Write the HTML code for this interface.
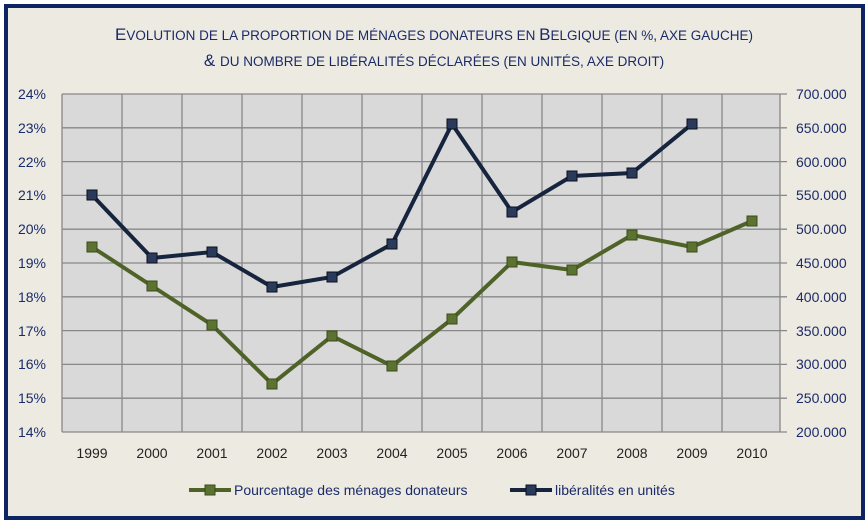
<!DOCTYPE html>
<html><head><meta charset="utf-8"><style>
body{margin:0;background:#fff;}
</style></head><body>
<svg width="868" height="524" xmlns="http://www.w3.org/2000/svg" font-family="Liberation Sans, sans-serif">
<rect x="6" y="6" width="857" height="512" fill="#edebe1" stroke="#0c2463" stroke-width="4"/>
<text x="434" y="40" text-anchor="middle" font-size="17" fill="#1a2a6a">E<tspan font-size="13.5">VOLUTION DE LA PROPORTION DE MÉNAGES DONATEURS EN </tspan>B<tspan font-size="13.5">ELGIQUE (EN %, AXE GAUCHE)</tspan></text>
<text x="434" y="66" text-anchor="middle" font-size="17" fill="#1a2a6a">&amp; <tspan font-size="13.5">DU NOMBRE DE LIBÉRALITÉS DÉCLARÉES (EN UNITÉS, AXE DROIT)</tspan></text>
<rect x="62" y="94" width="718" height="338" fill="#d9d9d9"/>
<g stroke="#888" stroke-width="1.3">
<line x1="62" y1="94" x2="787" y2="94"/><line x1="62" y1="127.8" x2="787" y2="127.8"/><line x1="62" y1="161.6" x2="787" y2="161.6"/><line x1="62" y1="195.4" x2="787" y2="195.4"/><line x1="62" y1="229.2" x2="787" y2="229.2"/><line x1="62" y1="263" x2="787" y2="263"/><line x1="62" y1="296.8" x2="787" y2="296.8"/><line x1="62" y1="330.6" x2="787" y2="330.6"/><line x1="62" y1="364.4" x2="787" y2="364.4"/><line x1="62" y1="398.2" x2="787" y2="398.2"/><line x1="62" y1="432" x2="787" y2="432"/>
<line x1="62" y1="94" x2="62" y2="432"/><line x1="122" y1="94" x2="122" y2="432"/><line x1="182" y1="94" x2="182" y2="432"/><line x1="242" y1="94" x2="242" y2="432"/><line x1="302" y1="94" x2="302" y2="432"/><line x1="362" y1="94" x2="362" y2="432"/><line x1="422" y1="94" x2="422" y2="432"/><line x1="482" y1="94" x2="482" y2="432"/><line x1="542" y1="94" x2="542" y2="432"/><line x1="602" y1="94" x2="602" y2="432"/><line x1="662" y1="94" x2="662" y2="432"/><line x1="722" y1="94" x2="722" y2="432"/><line x1="780" y1="94" x2="780" y2="432"/>
</g>
<g font-size="14" fill="#1a2a6a" text-anchor="end">
<text x="46" y="99">24%</text><text x="46" y="133">23%</text><text x="46" y="167">22%</text><text x="46" y="200">21%</text><text x="46" y="234">20%</text><text x="46" y="268">19%</text><text x="46" y="302">18%</text><text x="46" y="336">17%</text><text x="46" y="369">16%</text><text x="46" y="403">15%</text><text x="46" y="437">14%</text>
</g>
<g font-size="14" fill="#1a2a6a" text-anchor="start">
<text x="796" y="99">700.000</text><text x="796" y="133">650.000</text><text x="796" y="167">600.000</text><text x="796" y="200">550.000</text><text x="796" y="234">500.000</text><text x="796" y="268">450.000</text><text x="796" y="302">400.000</text><text x="796" y="336">350.000</text><text x="796" y="369">300.000</text><text x="796" y="403">250.000</text><text x="796" y="437">200.000</text>
</g>
<g font-size="14" fill="#222" text-anchor="middle">
<text x="92" y="458">1999</text><text x="152" y="458">2000</text><text x="212" y="458">2001</text><text x="272" y="458">2002</text><text x="332" y="458">2003</text><text x="392" y="458">2004</text><text x="452" y="458">2005</text><text x="512" y="458">2006</text><text x="572" y="458">2007</text><text x="632" y="458">2008</text><text x="692" y="458">2009</text><text x="752" y="458">2010</text>
</g>
<polyline fill="none" stroke="#4f6228" stroke-width="4" points="92,247 152,286 212,325 272,384 332,336 392,366 452,319 512,262 572,270 632,235 692,247 752,221"/>
<g fill="#5c7230" stroke="#3a4a1a" stroke-width="1">
<rect x="87" y="242" width="10" height="10"/><rect x="147" y="281" width="10" height="10"/><rect x="207" y="320" width="10" height="10"/><rect x="267" y="379" width="10" height="10"/><rect x="327" y="331" width="10" height="10"/><rect x="387" y="361" width="10" height="10"/><rect x="447" y="314" width="10" height="10"/><rect x="507" y="257" width="10" height="10"/><rect x="567" y="265" width="10" height="10"/><rect x="627" y="230" width="10" height="10"/><rect x="687" y="242" width="10" height="10"/><rect x="747" y="216" width="10" height="10"/>
</g>
<polyline fill="none" stroke="#17243d" stroke-width="4" points="92,195 152,258 212,252 272,287 332,277 392,244 452,124 512,212 572,176 632,173 692,124"/>
<g fill="#2a3a5a" stroke="#0a1020" stroke-width="1">
<rect x="87" y="190" width="10" height="10"/><rect x="147" y="253" width="10" height="10"/><rect x="207" y="247" width="10" height="10"/><rect x="267" y="282" width="10" height="10"/><rect x="327" y="272" width="10" height="10"/><rect x="387" y="239" width="10" height="10"/><rect x="447" y="119" width="10" height="10"/><rect x="507" y="207" width="10" height="10"/><rect x="567" y="171" width="10" height="10"/><rect x="627" y="168" width="10" height="10"/><rect x="687" y="119" width="10" height="10"/>
</g>
<line x1="189" y1="490" x2="231" y2="490" stroke="#4f6228" stroke-width="4"/>
<rect x="205" y="485" width="10" height="10" fill="#5c7230" stroke="#3a4a1a"/>
<text x="234" y="495" font-size="14" fill="#1a2a6a">Pourcentage des ménages donateurs</text>
<line x1="510" y1="490" x2="552" y2="490" stroke="#17243d" stroke-width="4"/>
<rect x="526" y="485" width="10" height="10" fill="#2a3a5a" stroke="#0a1020"/>
<text x="555" y="495" font-size="14" fill="#1a2a6a">libéralités en unités</text>
</svg>
</body></html>
